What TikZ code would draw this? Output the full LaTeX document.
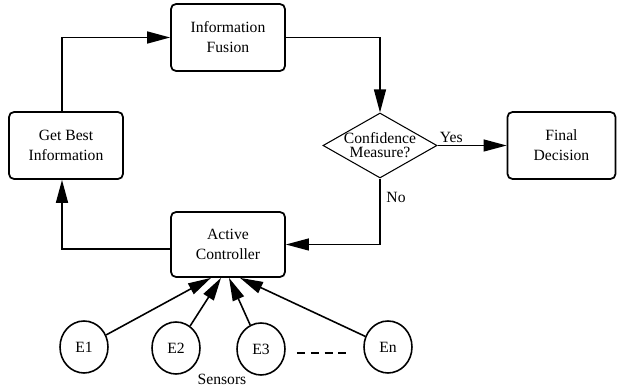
\documentclass[tikz,border=0pt]{standalone}
\usepackage{fontspec}
\setmainfont{Liberation Serif}
\usepackage{tikz}
\usepackage{xcolor}
\usetikzlibrary{shapes,arrows,positioning,calc,shapes.geometric,arrows.meta}

\tikzset{
	stepbox/.style={draw, rectangle, rounded corners=0.1cm, line width=1pt, minimum width=2.28cm, minimum height=1.34cm, align=center, inner sep=0pt},
	sensor/.style={draw, ellipse, line width=0.9pt, minimum width=0.96cm, minimum height=1.04cm, inner sep=0pt},
	flow/.style={line width=0.9pt, -{Triangle[length=0.46cm, width=0.24cm]}},
	thinflow/.style={line width=0.7pt, -{Triangle[length=0.46cm, width=0.24cm]}}
}

\begin{document}
\begin{tikzpicture}[font=\fontsize{8.9}{11.4}\selectfont]
	\useasboundingbox (0,0) rectangle (12.34,-7.74);
	
	% Information Fusion
	\node[stepbox] (fusion) at (4.56,-0.75) {Information\\Fusion};
	
	% Get Best Information
	\node[stepbox] (best) at (1.32,-2.91) {Get Best\\Information};
	
	% Confidence Measure?
	\node[draw, diamond, aspect=1.75, line width=0.6pt, minimum width=2.28cm, minimum height=1.3cm, inner sep=0pt] (conf) at (7.60,-2.91) {\makebox[1cm]{\shortstack{Confidence\\[-1pt]Measure?}}};
	
	% Final Decision
	\node[stepbox, minimum width=2.16cm] (final) at (11.23,-2.91) {Final\\Decision};
	
	% Active Controller
	\node[stepbox, minimum height=1.3cm] (ac) at (4.56,-4.89) {Active\\Controller};
	
	% Sensors
	\node[sensor] (e1) at (1.68,-6.94) {E1};
	\node[sensor] (e2) at (3.52,-6.96) {E2};
	\node[sensor] (e3) at (5.22,-6.98) {E3};
	\node[sensor] (en) at (7.76,-6.94) {En};
	\node (sensors) at (4.44,-7.58) {Sensors};
	\draw[line width=0.9pt, dash pattern=on 0.16cm off 0.115cm] (5.94,-7.06) -- (6.92,-7.06);
	
	% loop
	\draw[flow] ([xshift=-0.08cm]best.north) |- (fusion.west);
	\draw[thinflow] (fusion.east) -| (conf.north);
	\draw[thinflow] (conf.east) -- node[pos=0, above right, inner sep=1pt] {Yes} (final.west);
	\draw[thinflow] (conf.south) |- node[pos=0.145, right] {No} (ac.east);
	\draw[flow] ([yshift=-0.09cm]ac.west) -| ([xshift=-0.08cm]best.south);
	
	% sensor inputs
	\draw[flow] (e1) -- ([xshift=-0.34cm]ac.south);
	\draw[flow] (e2) -- ([xshift=-0.14cm]ac.south);
	\draw[flow] (e3) -- ([xshift=0.02cm]ac.south);
	\draw[flow] (en) -- ([xshift=0.24cm]ac.south);
\end{tikzpicture}
\end{document}
